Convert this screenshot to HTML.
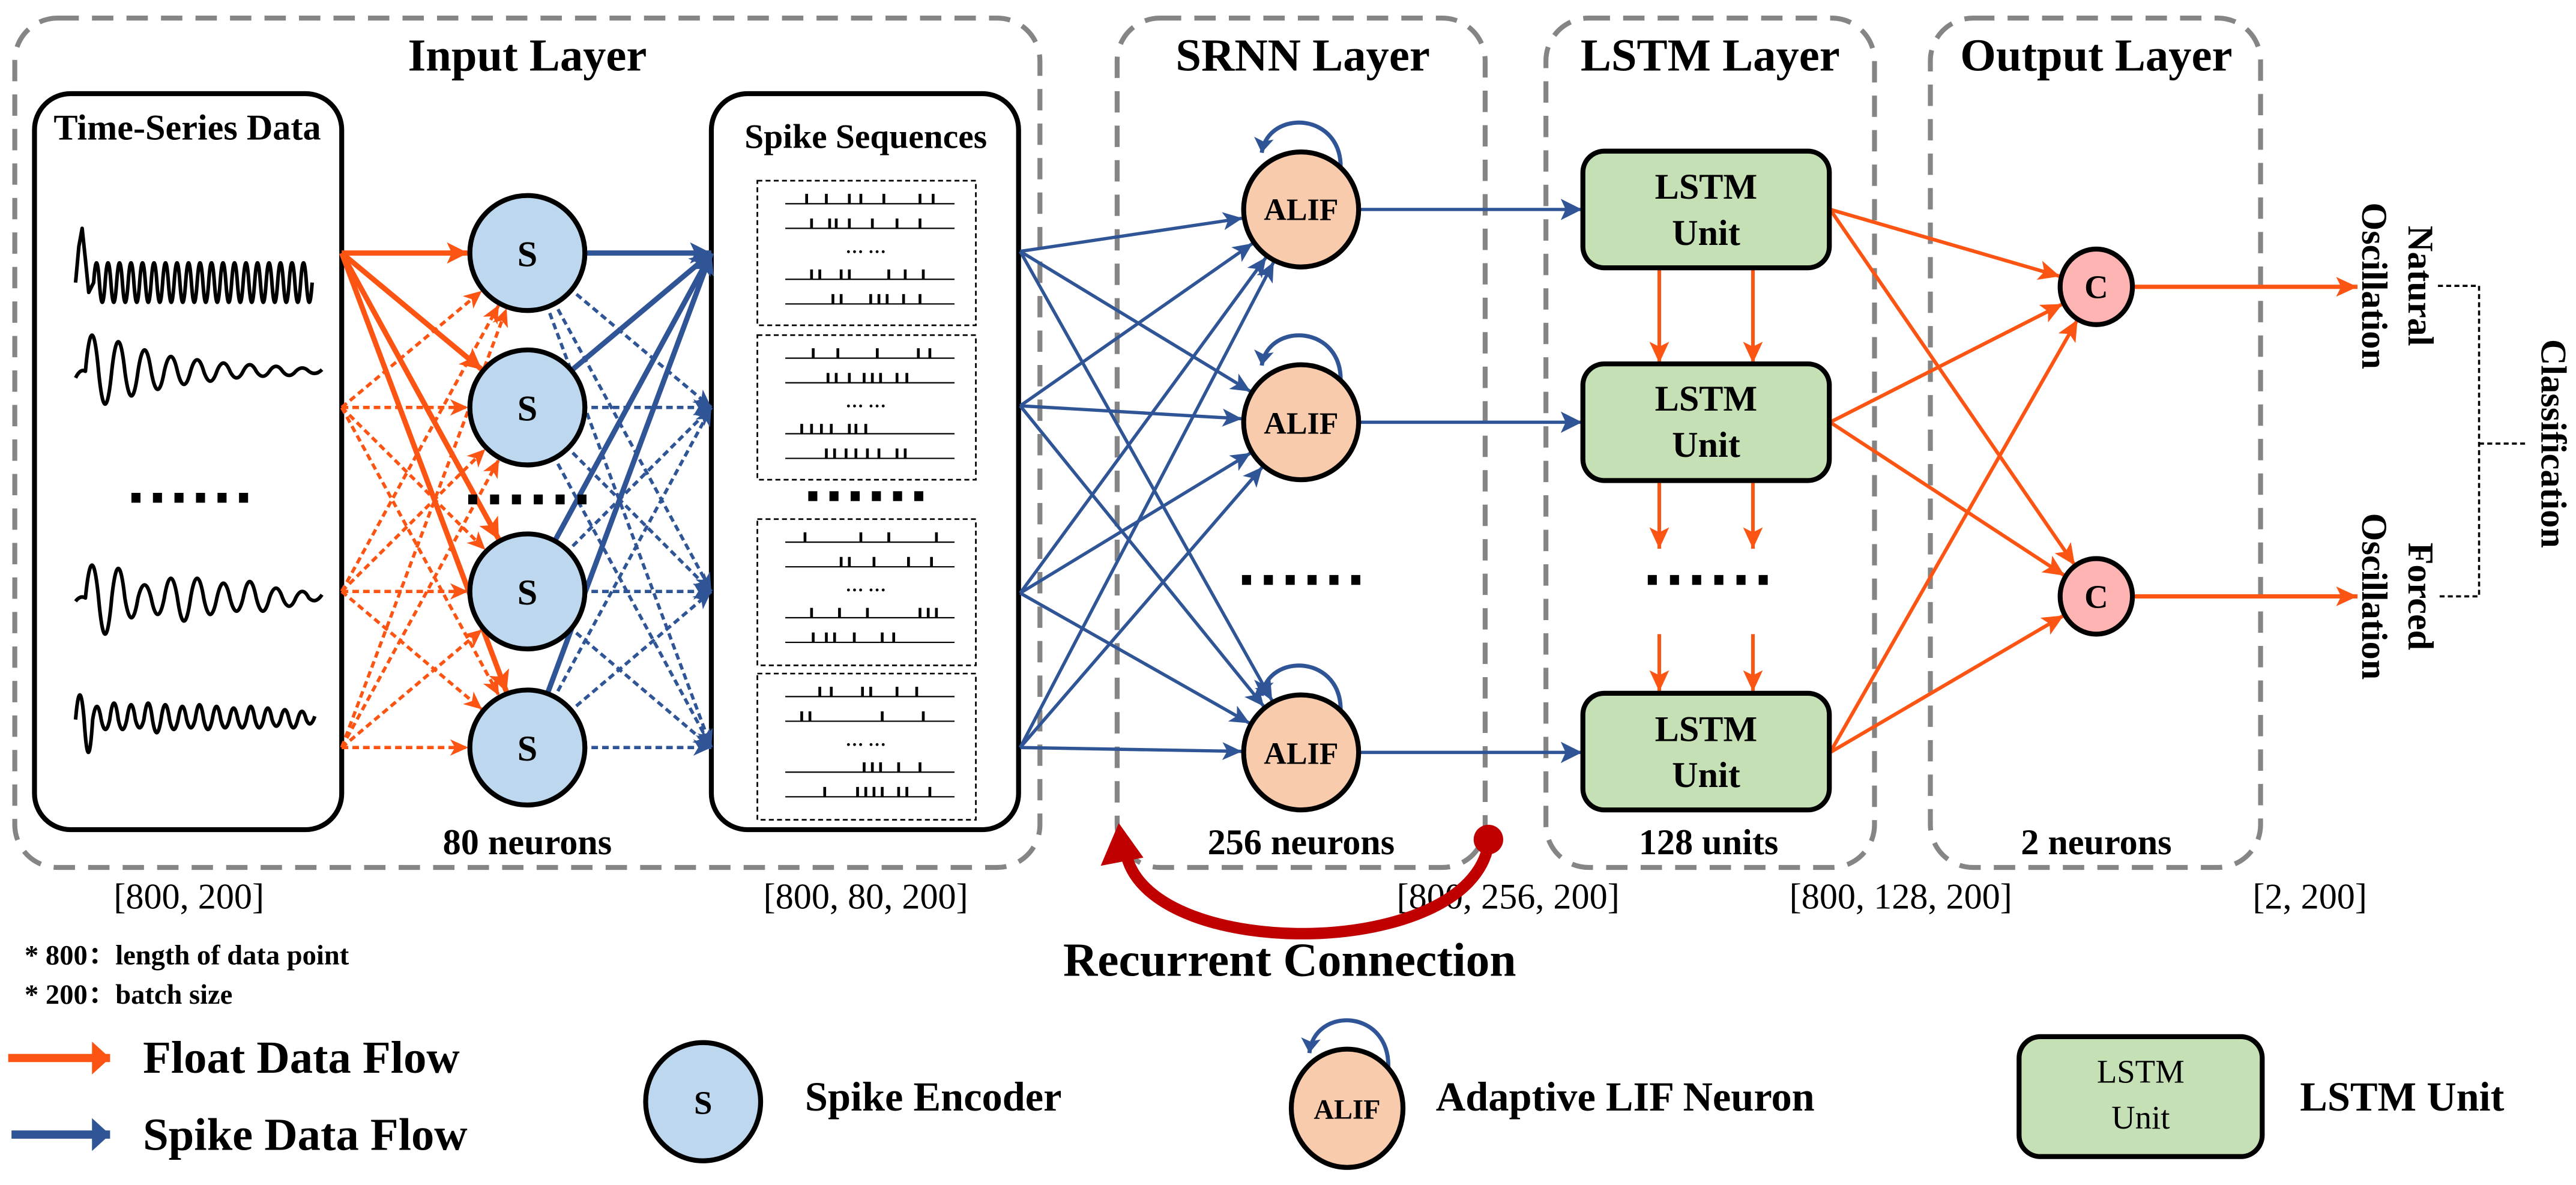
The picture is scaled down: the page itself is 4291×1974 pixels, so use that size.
<!DOCTYPE html>
<html><head><meta charset="utf-8">
<style>
html,body{margin:0;padding:0;background:#fff;}
svg{display:block;}
text{font-family:"Liberation Serif","Noto Serif CJK SC",serif;}
.b{font-weight:bold;}
</style></head>
<body>
<svg xmlns="http://www.w3.org/2000/svg" width="4291" height="1974" viewBox="0 0 1568 721.3" preserveAspectRatio="none">
<defs>
<marker id="o0" markerUnits="userSpaceOnUse" orient="auto" refX="0" refY="0" markerWidth="40" markerHeight="40" overflow="visible"><path d="M0,0 L-13,-6 L-10,0 L-13,6 z" fill="#FC5412"/></marker>
<marker id="o36" markerUnits="userSpaceOnUse" orient="auto" refX="36" refY="0" markerWidth="40" markerHeight="40" overflow="visible"><path d="M0,0 L-13,-6.5 L-10,0 L-13,6.5 z" fill="#FC5412"/></marker>
<marker id="os36" markerUnits="userSpaceOnUse" orient="auto" refX="36" refY="0" markerWidth="40" markerHeight="40" overflow="visible"><path d="M0,0 L-11,-5 L-8,0 L-11,5 z" fill="#FC5412"/></marker>
<marker id="o23" markerUnits="userSpaceOnUse" orient="auto" refX="23" refY="0" markerWidth="40" markerHeight="40" overflow="visible"><path d="M0,0 L-13,-6 L-10,0 L-13,6 z" fill="#FC5412"/></marker>
<marker id="b0" markerUnits="userSpaceOnUse" orient="auto" refX="0" refY="0" markerWidth="40" markerHeight="40" overflow="visible"><path d="M0,0 L-13,-6.5 L-10,0 L-13,6.5 z" fill="#2F5597"/></marker>
<marker id="bs0" markerUnits="userSpaceOnUse" orient="auto" refX="0" refY="0" markerWidth="40" markerHeight="40" overflow="visible"><path d="M0,0 L-11,-5 L-8,0 L-11,5 z" fill="#2F5597"/></marker>
<marker id="b36" markerUnits="userSpaceOnUse" orient="auto" refX="36" refY="0" markerWidth="40" markerHeight="40" overflow="visible"><path d="M0,0 L-12,-5.5 L-9,0 L-12,5.5 z" fill="#2F5597"/></marker>
<marker id="bl" markerUnits="userSpaceOnUse" orient="auto" refX="0" refY="0" markerWidth="40" markerHeight="40" overflow="visible"><path d="M0,0 L-9,-6 L-7,0 L-9,6 z" fill="#2F5597"/></marker>
<marker id="oL" markerUnits="userSpaceOnUse" orient="auto" refX="0" refY="0" markerWidth="40" markerHeight="40" overflow="visible"><path d="M0,0 L-11,-10 L-11,10 z" fill="#FC5412"/></marker>
<marker id="bL" markerUnits="userSpaceOnUse" orient="auto" refX="0" refY="0" markerWidth="40" markerHeight="40" overflow="visible"><path d="M0,0 L-11,-10 L-11,10 z" fill="#2F5597"/></marker>
</defs>
<rect x="0" y="0" width="1568" height="721.3" fill="#fff"/>
<g fill="none" stroke="#858585" stroke-width="3" stroke-dasharray="13 8">
<rect x="9" y="11" width="624" height="517" rx="26"/>
<rect x="680" y="11" width="224" height="517" rx="26"/>
<rect x="941" y="11" width="200" height="517" rx="26"/>
<rect x="1175" y="11" width="201" height="517" rx="26"/>
</g>
<g font-size="28" text-anchor="middle">
<text x="321" y="43" class="b">Input Layer</text>
<text x="793" y="43" class="b">SRNN Layer</text>
<text x="1041" y="43" class="b">LSTM Layer</text>
<text x="1276" y="43" class="b">Output Layer</text>
</g>
<rect x="21" y="57" width="187" height="448" rx="22" fill="#fff" stroke="#000" stroke-width="3"/>
<rect x="433" y="57" width="187" height="448" rx="22" fill="#fff" stroke="#000" stroke-width="3"/>
<text x="114" y="85" font-size="22" text-anchor="middle" class="b">Time-Series Data</text>
<text x="527" y="90" font-size="21" text-anchor="middle" class="b">Spike Sequences</text>
<g fill="none" stroke="#000" stroke-width="1" stroke-dasharray="3 2">
<rect x="461" y="110" width="133" height="88"/>
<rect x="461" y="204" width="133" height="88"/>
<rect x="461" y="316" width="133" height="89"/>
<rect x="461" y="410" width="133" height="89"/>
</g>
<!-- waves -->
<g fill="none" stroke="#000" stroke-width="2.2" stroke-linejoin="round">
<path d="M46,172 L48,150 L50,139 L52,158 L54,178 L57,172 q1.75,-24 3.5,0 t3.5,0 t3.5,0 t3.5,0 t3.5,0 t3.5,0 t3.5,0 t3.5,0 t3.5,0 t3.5,0 t3.5,0 t3.5,0 t3.5,0 t3.5,0 t3.5,0 t3.5,0 t3.5,0 t3.5,0 t3.5,0 t3.5,0 t3.5,0 t3.5,0 t3.5,0 t3.5,0 t3.5,0 t3.5,0 t3.5,0 t3.5,0 t3.5,0 t3.5,0 t3.5,0 t3.5,0 t3.5,0 t3.5,0 t3.5,0 t3.5,0 t3.5,0 t3.5,0"/>
<path d="M46,230 q3,-6 6,-4 q4,-44 8,0 q4,40 8,0 q4,-36 8,0 q4,30 8,0 q4,-26 8,0 q4,22 8,0 q4,-18 8,0 q4,16 8,0 q4,-14 8,0 q4,12 8,0 q4,-10 8,0 q4,8 8,0 q4,-8 8,0 q4,6 8,0 q4,-6 8,0 q4,5 8,0 q4,-4 8,0 q4,3 8,-1"/>
<path d="M46,366 q3,-4 6,-2 q4,-40 8,0 q4,44 8,0 q4,-36 8,0 q4,24 8,0 q4,-16 8,0 q4,20 8,0 q4,-24 8,0 q4,28 8,0 q4,-24 8,0 q4,20 8,0 q4,-18 8,0 q4,16 8,0 q4,-20 8,0 q4,16 8,0 q4,-12 8,0 q4,10 8,0 q4,-8 8,0 q4,4 8,-2"/>
<path d="M46,438 q2.6,-30 5.2,0 q2.6,40 5.2,0 q2.6,-16 5.2,0 q2.6,12 5.2,0 q2.6,-20 5.2,0 q2.6,12 5.2,0 q2.6,-18 5.2,0 q2.6,10 5.2,0 q2.6,-20 5.2,0 q2.6,16 5.2,0 q2.6,-18 5.2,0 q2.6,12 5.2,0 q2.6,-16 5.2,0 q2.6,10 5.2,0 q2.6,-18 5.2,0 q2.6,12 5.2,0 q2.6,-16 5.2,0 q2.6,10 5.2,0 q2.6,-14 5.2,0 q2.6,10 5.2,0 q2.6,-16 5.2,0 q2.6,10 5.2,0 q2.6,-14 5.2,0 q2.6,8 5.2,0 q2.6,-12 5.2,0 q2.6,10 5.2,0 q2.6,-10 5.2,0 q2.6,6 5.2,-2"/>
</g>
<!-- spike trains -->
<g stroke="#000" stroke-width="0.8">
<path d="M478,124H581M478,139H581M478,170H581M478,185H581M478,218H581M478,233H581M478,264H581M478,279H581M478,330H581M478,345H581M478,376H581M478,391H581M478,424H581M478,439H581M478,470H581M478,485H581"/>
</g>
<g stroke="#000" stroke-width="1.7">
<path d="M491,124v-6M503,124v-6M517,124v-6M524,124v-6M538,124v-6M560,124v-6M568,124v-6
M494,139v-6M505,139v-6M509,139v-6M517,139v-6M531,139v-6M546,139v-6M560,139v-6
M494,170v-6M499,170v-6M512,170v-6M517,170v-6M541,170v-6M551,170v-6M562,170v-6
M507,185v-6M512,185v-6M530,185v-6M535,185v-6M540,185v-6M550,185v-6M560,185v-6
M495,218v-6M510,218v-6M534,218v-6M559,218v-6M566,218v-6
M504,233v-6M509,233v-6M517,233v-6M526,233v-6M531,233v-6M536,233v-6M546,233v-6M552,233v-6
M488,264v-6M494,264v-6M500,264v-6M506,264v-6M517,264v-6M521,264v-6M527,264v-6
M503,279v-6M508,279v-6M515,279v-6M521,279v-6M528,279v-6M535,279v-6M546,279v-6M551,279v-6
M490,330v-6M524,330v-6M541,330v-6M570,330v-6
M512,345v-6M517,345v-6M532,345v-6M553,345v-6M567,345v-6
M494,376v-6M511,376v-6M528,376v-6M560,376v-6M565,376v-6M570,376v-6
M495,391v-6M503,391v-6M508,391v-6M520,391v-6M537,391v-6M544,391v-6
M499,424v-6M506,424v-6M525,424v-6M530,424v-6M546,424v-6M558,424v-6
M488,439v-6M493,439v-6M537,439v-6M562,439v-6
M526,470v-6M531,470v-6M536,470v-6M547,470v-6M560,470v-6
M502,485v-6M522,485v-6M527,485v-6M532,485v-6M537,485v-6M547,485v-6M552,485v-6M566,485v-6"/>
</g>
<g font-size="11" text-anchor="middle" class="b">
<text x="527" y="154" class="b">… …</text><text x="527" y="248" class="b">… …</text>
<text x="527" y="360" class="b">… …</text><text x="527" y="454" class="b">… …</text>
</g>
<!-- input orange connectors -->
<g stroke="#FC5412" stroke-width="3.2" fill="none">
<line x1="208" y1="154" x2="321" y2="154" marker-end="url(#o36)"/>
<line x1="208" y1="154" x2="321" y2="248" marker-end="url(#o36)"/>
<line x1="208" y1="154" x2="321" y2="360" marker-end="url(#o36)"/>
<line x1="208" y1="154" x2="321" y2="455" marker-end="url(#o36)"/>
</g>
<g stroke="#FC5412" stroke-width="2" stroke-dasharray="4 2.5" fill="none">
<line x1="208" y1="248" x2="321" y2="154" marker-end="url(#os36)"/>
<line x1="208" y1="248" x2="321" y2="248" marker-end="url(#os36)"/>
<line x1="208" y1="248" x2="321" y2="360" marker-end="url(#os36)"/>
<line x1="208" y1="248" x2="321" y2="455" marker-end="url(#os36)"/>
<line x1="208" y1="360" x2="321" y2="154" marker-end="url(#os36)"/>
<line x1="208" y1="360" x2="321" y2="248" marker-end="url(#os36)"/>
<line x1="208" y1="360" x2="321" y2="360" marker-end="url(#os36)"/>
<line x1="208" y1="360" x2="321" y2="455" marker-end="url(#os36)"/>
<line x1="208" y1="455" x2="321" y2="154" marker-end="url(#os36)"/>
<line x1="208" y1="455" x2="321" y2="248" marker-end="url(#os36)"/>
<line x1="208" y1="455" x2="321" y2="360" marker-end="url(#os36)"/>
<line x1="208" y1="455" x2="321" y2="455" marker-end="url(#os36)"/>
</g>
<!-- S -> spike blue -->
<g stroke="#2F5597" stroke-width="3.2" fill="none">
<line x1="321" y1="154" x2="433" y2="154" marker-end="url(#b0)"/>
<line x1="321" y1="248" x2="433" y2="154" marker-end="url(#b0)"/>
<line x1="321" y1="360" x2="433" y2="154" marker-end="url(#b0)"/>
<line x1="321" y1="455" x2="433" y2="154" marker-end="url(#b0)"/>
</g>
<g stroke="#2F5597" stroke-width="2" stroke-dasharray="4 2.5" fill="none">
<line x1="321" y1="154" x2="433" y2="248" marker-end="url(#bs0)"/>
<line x1="321" y1="154" x2="433" y2="360" marker-end="url(#bs0)"/>
<line x1="321" y1="154" x2="433" y2="455" marker-end="url(#bs0)"/>
<line x1="321" y1="248" x2="433" y2="248" marker-end="url(#bs0)"/>
<line x1="321" y1="248" x2="433" y2="360" marker-end="url(#bs0)"/>
<line x1="321" y1="248" x2="433" y2="455" marker-end="url(#bs0)"/>
<line x1="321" y1="360" x2="433" y2="248" marker-end="url(#bs0)"/>
<line x1="321" y1="360" x2="433" y2="360" marker-end="url(#bs0)"/>
<line x1="321" y1="360" x2="433" y2="455" marker-end="url(#bs0)"/>
<line x1="321" y1="455" x2="433" y2="248" marker-end="url(#bs0)"/>
<line x1="321" y1="455" x2="433" y2="360" marker-end="url(#bs0)"/>
<line x1="321" y1="455" x2="433" y2="455" marker-end="url(#bs0)"/>
</g>
<!-- spike -> ALIF -->
<g stroke="#2F5597" stroke-width="2" fill="none">
<line x1="621" y1="153" x2="792" y2="127.5" marker-end="url(#b36)"/>
<line x1="621" y1="153" x2="792" y2="257" marker-end="url(#b36)"/>
<line x1="621" y1="153" x2="792" y2="458" marker-end="url(#b36)"/>
<line x1="621" y1="247" x2="792" y2="127.5" marker-end="url(#b36)"/>
<line x1="621" y1="247" x2="792" y2="257" marker-end="url(#b36)"/>
<line x1="621" y1="247" x2="792" y2="458" marker-end="url(#b36)"/>
<line x1="621" y1="361" x2="792" y2="127.5" marker-end="url(#b36)"/>
<line x1="621" y1="361" x2="792" y2="257" marker-end="url(#b36)"/>
<line x1="621" y1="361" x2="792" y2="458" marker-end="url(#b36)"/>
<line x1="621" y1="455" x2="792" y2="127.5" marker-end="url(#b36)"/>
<line x1="621" y1="455" x2="792" y2="257" marker-end="url(#b36)"/>
<line x1="621" y1="455" x2="792" y2="458" marker-end="url(#b36)"/>
<line x1="792" y1="127.5" x2="963" y2="127.5" marker-end="url(#b0)"/>
<line x1="792" y1="257" x2="963" y2="257" marker-end="url(#b0)"/>
<line x1="792" y1="458" x2="963" y2="458" marker-end="url(#b0)"/>
</g>
<!-- ALIF self loops -->
<g stroke="#2F5597" stroke-width="2.5" fill="none">
<path d="M816,104 C818,68 772,66 768,93" marker-end="url(#bl)"/>
<path d="M816,233.5 C818,197.5 772,195.5 768,222.5" marker-end="url(#bl)"/>
<path d="M816,434.5 C818,398.5 772,396.5 768,423.5" marker-end="url(#bl)"/>
<path d="M845,651 C847,614 800,612 797,641" marker-end="url(#bl)"/>
</g>
<!-- LSTM vertical arrows and to C -->
<g stroke="#FC5412" stroke-width="2.2" fill="none">
<line x1="1010" y1="163" x2="1010" y2="221" marker-end="url(#o0)"/>
<line x1="1067" y1="163" x2="1067" y2="221" marker-end="url(#o0)"/>
<line x1="1010" y1="294" x2="1010" y2="334" marker-end="url(#o0)"/>
<line x1="1067" y1="294" x2="1067" y2="334" marker-end="url(#o0)"/>
<line x1="1010" y1="386" x2="1010" y2="421" marker-end="url(#o0)"/>
<line x1="1067" y1="386" x2="1067" y2="421" marker-end="url(#o0)"/>
<line x1="1114" y1="127.5" x2="1276" y2="174.6" marker-end="url(#o23)"/>
<line x1="1114" y1="127.5" x2="1276" y2="363" marker-end="url(#o23)"/>
<line x1="1114" y1="257" x2="1276" y2="174.6" marker-end="url(#o23)"/>
<line x1="1114" y1="257" x2="1276" y2="363" marker-end="url(#o23)"/>
<line x1="1114" y1="458" x2="1276" y2="174.6" marker-end="url(#o23)"/>
<line x1="1114" y1="458" x2="1276" y2="363" marker-end="url(#o23)"/>
<line x1="1276" y1="174.6" x2="1435" y2="174.6" stroke-width="2.6" marker-end="url(#o0)"/>
<line x1="1276" y1="363" x2="1435" y2="363" stroke-width="2.6" marker-end="url(#o0)"/>
</g>
<!-- dots -->
<g fill="#000">
<rect x="80" y="300" width="5.5" height="6"/><rect x="93.1" y="300" width="5.5" height="6"/><rect x="106.2" y="300" width="5.5" height="6"/><rect x="119.3" y="300" width="5.5" height="6"/><rect x="132.4" y="300" width="5.5" height="6"/><rect x="145.5" y="300" width="5.5" height="6"/>
<rect x="285" y="301" width="5.5" height="6"/><rect x="298.3" y="301" width="5.5" height="6"/><rect x="311.6" y="301" width="5.5" height="6"/><rect x="324.9" y="301" width="5.5" height="6"/><rect x="338.2" y="301" width="5.5" height="6"/><rect x="351.5" y="301" width="5.5" height="6"/>
<rect x="492" y="299" width="5.5" height="6"/><rect x="504.9" y="299" width="5.5" height="6"/><rect x="517.8" y="299" width="5.5" height="6"/><rect x="530.7" y="299" width="5.5" height="6"/><rect x="543.6" y="299" width="5.5" height="6"/><rect x="556.5" y="299" width="5.5" height="6"/>
<rect x="756" y="350" width="5.5" height="6"/><rect x="769.3" y="350" width="5.5" height="6"/><rect x="782.6" y="350" width="5.5" height="6"/><rect x="795.9" y="350" width="5.5" height="6"/><rect x="809.2" y="350" width="5.5" height="6"/><rect x="822.5" y="350" width="5.5" height="6"/>
<rect x="1003" y="350" width="5.5" height="6"/><rect x="1016.5" y="350" width="5.5" height="6"/><rect x="1030" y="350" width="5.5" height="6"/><rect x="1043.5" y="350" width="5.5" height="6"/><rect x="1057" y="350" width="5.5" height="6"/><rect x="1070.5" y="350" width="5.5" height="6"/>
</g>
<!-- S circles -->
<g stroke="#000" stroke-width="3" fill="#BDD7EE">
<circle cx="321" cy="154" r="35"/><circle cx="321" cy="248" r="35"/>
<circle cx="321" cy="360" r="35"/><circle cx="321" cy="455" r="35"/>
</g>
<g font-size="22" text-anchor="middle">
<text x="321" y="162" class="b">S</text><text x="321" y="256" class="b">S</text>
<text x="321" y="368" class="b">S</text><text x="321" y="463" class="b">S</text>
</g>
<g stroke="#000" stroke-width="3" fill="#F8CBAD">
<circle cx="792" cy="127.5" r="35"/><circle cx="792" cy="257" r="35"/><circle cx="792" cy="458" r="35"/>
</g>
<g font-size="19" text-anchor="middle">
<text x="792" y="134" class="b">ALIF</text><text x="792" y="264" class="b">ALIF</text><text x="792" y="465" class="b">ALIF</text>
</g>
<g stroke="#000" stroke-width="3" fill="#C5E0B4">
<rect x="963.5" y="92" width="150" height="71" rx="13"/>
<rect x="963.5" y="221.5" width="150" height="71" rx="13"/>
<rect x="963.5" y="422" width="150" height="71" rx="13"/>
</g>
<g font-size="22" text-anchor="middle">
<text x="1038.5" y="121" class="b">LSTM</text><text x="1038.5" y="149" class="b">Unit</text>
<text x="1038.5" y="250" class="b">LSTM</text><text x="1038.5" y="278" class="b">Unit</text>
<text x="1038.5" y="451" class="b">LSTM</text><text x="1038.5" y="479" class="b">Unit</text>
</g>
<g stroke="#000" stroke-width="3" fill="#FFB4B4">
<ellipse cx="1276" cy="174.6" rx="22" ry="23"/><ellipse cx="1276" cy="363" rx="22" ry="23"/>
</g>
<g font-size="20" text-anchor="middle">
<text x="1276" y="181.5" class="b">C</text><text x="1276" y="370" class="b">C</text>
</g>
<g font-size="22" text-anchor="middle">
<text transform="translate(1466,174) rotate(90)" class="b">Natural</text>
<text transform="translate(1438,174) rotate(90)" class="b">Oscillation</text>
<text transform="translate(1466,363) rotate(90)" class="b">Forced</text>
<text transform="translate(1438,363) rotate(90)" class="b">Oscillation</text>
<text transform="translate(1547,270) rotate(90)" class="b">Classification</text>
</g>
<g fill="none" stroke="#000" stroke-width="1.3" stroke-dasharray="3 2">
<polyline points="1484,174 1509,174 1509,363 1484,363"/>
<line x1="1509" y1="270" x2="1537" y2="270"/>
</g>
<g font-size="22" text-anchor="middle">
<text x="321" y="520" class="b">80 neurons</text>
<text x="792" y="520" class="b">256 neurons</text>
<text x="1040" y="520" class="b">128 units</text>
<text x="1276" y="520" class="b">2 neurons</text>
</g>
<g font-size="22" text-anchor="middle">
<text x="115" y="553">[800, 200]</text>
<text x="527" y="553">[800, 80, 200]</text>
<text x="918" y="553">[800, 256, 200]</text>
<text x="1157" y="553">[800, 128, 200]</text>
<text x="1406" y="553">[2, 200]</text>
</g>
<g font-size="17">
<text x="15" y="587" class="b">* 800：length of data point</text>
<text x="15" y="611" class="b">* 200：batch size</text>
</g>
<path d="M906,514 C894,584 704,586 686,522" fill="none" stroke="#C00000" stroke-width="7"/>
<polygon points="681,501 670,527 696,522" fill="#C00000"/>
<circle cx="906" cy="511" r="9" fill="#C00000"/>
<text x="785" y="594" font-size="29" text-anchor="middle" class="b">Recurrent Connection</text>
<line x1="5" y1="644" x2="67" y2="644" stroke="#FC5412" stroke-width="5" marker-end="url(#oL)"/>
<line x1="7" y1="690.6" x2="67" y2="690.6" stroke="#2F5597" stroke-width="5" marker-end="url(#bL)"/>
<text x="87" y="653" font-size="28" class="b">Float Data Flow</text>
<text x="87" y="700" font-size="28" class="b">Spike Data Flow</text>
<ellipse cx="428" cy="670.6" rx="35" ry="36" fill="#BDD7EE" stroke="#000" stroke-width="3"/>
<text x="428" y="678" font-size="20" text-anchor="middle" class="b">S</text>
<text x="490" y="676" font-size="25" class="b">Spike Encoder</text>
<ellipse cx="820" cy="674.6" rx="34" ry="36" fill="#F8CBAD" stroke="#000" stroke-width="3"/>
<text x="820" y="681" font-size="17" text-anchor="middle" class="b">ALIF</text>
<text x="874" y="676" font-size="25" class="b">Adaptive LIF Neuron</text>
<rect x="1229" y="631" width="148" height="73" rx="13" fill="#C5E0B4" stroke="#000" stroke-width="3"/>
<text x="1303" y="659" font-size="20" text-anchor="middle">LSTM</text>
<text x="1303" y="687" font-size="20" text-anchor="middle">Unit</text>
<text x="1400" y="676" font-size="25" class="b">LSTM Unit</text>
</svg>
</body></html>
